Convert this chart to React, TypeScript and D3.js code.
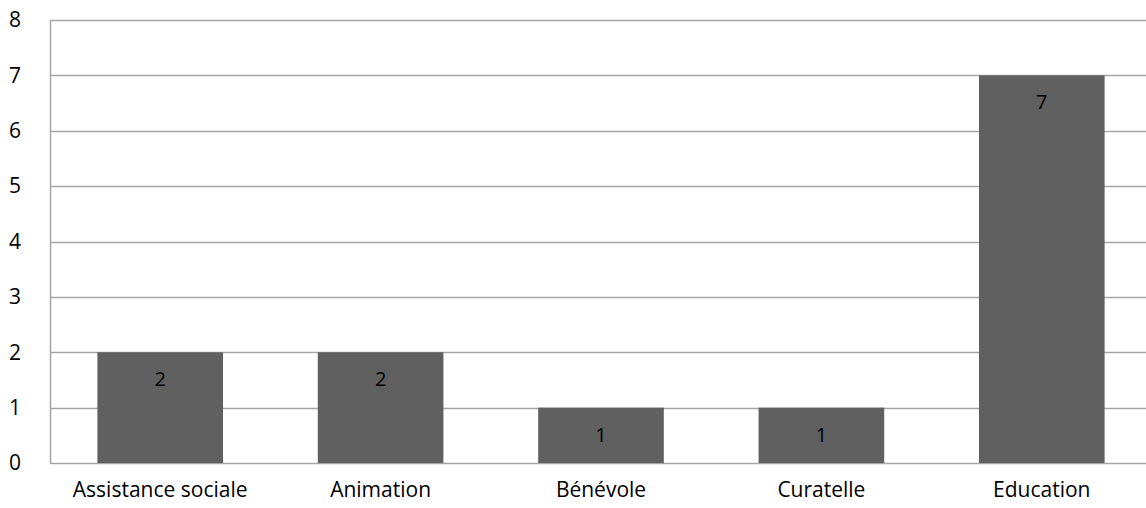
import * as d3 from 'd3';
import { useEffect, useRef } from 'react';

const categories = ['Assistance sociale', 'Animation', 'Bénévole', 'Curatelle', 'Education'];
const values = [2, 2, 1, 1, 7];
const yTicks = [0, 1, 2, 3, 4, 5, 6, 7, 8];

const App = () => {
  const svgRef = useRef<SVGSVGElement | null>(null);

  useEffect(() => {
    const width = 1146;
    const height = 508;
    // plot area runs a little past the right edge of the picture
    const margin = { top: 20, right: -6, bottom: 45, left: 50 };
    const font = '"Open Sans", Lato, sans-serif';

    const x = d3
      .scaleBand<string>()
      .domain(categories)
      .range([margin.left, width - margin.right])
      .paddingInner(0.43)
      .paddingOuter(0.215);

    const y = d3
      .scaleLinear()
      .domain([0, 8])
      .range([height - margin.bottom, margin.top]);

    const svg = d3.select(svgRef.current)
      .attr('width', width)
      .attr('height', height);

    svg.selectAll('*').remove();

    // gridlines
    svg.append('g')
      .selectAll('line')
      .data(yTicks)
      .join('line')
      .attr('x1', margin.left)
      .attr('x2', width - margin.right)
      .attr('y1', (d) => Math.round(y(d)) + 0.5)
      .attr('y2', (d) => Math.round(y(d)) + 0.5)
      .attr('stroke', '#a6a6a6')
      .attr('stroke-width', 1.5);

    // left axis line
    svg.append('line')
      .attr('x1', margin.left + 0.5)
      .attr('x2', margin.left + 0.5)
      .attr('y1', y(8))
      .attr('y2', y(0) + 1)
      .attr('stroke', '#a6a6a6')
      .attr('stroke-width', 1.5);

    // y tick labels
    svg.append('g')
      .selectAll('text')
      .data(yTicks)
      .join('text')
      .attr('x', 15)
      .attr('y', (d) => y(d))
      .attr('dy', '0.35em')
      .attr('text-anchor', 'middle')
      .attr('font-family', font)
      .attr('font-size', 21)
      .attr('fill', '#000')
      .text((d) => d);

    // bars
    svg.append('g')
      .selectAll('rect')
      .data(values)
      .join('rect')
      .attr('x', (_, i) => x(categories[i])!)
      .attr('y', (d) => y(d))
      .attr('width', x.bandwidth())
      .attr('height', (d) => y(0) - y(d))
      .attr('fill', '#606060');

    // value labels
    svg.append('g')
      .selectAll('text')
      .data(values)
      .join('text')
      .attr('x', (_, i) => x(categories[i])! + x.bandwidth() / 2)
      .attr('y', (d) => y(d) + 27)
      .attr('dy', '0.35em')
      .attr('text-anchor', 'middle')
      .attr('font-family', font)
      .attr('font-size', 20)
      .attr('fill', '#000')
      .text((d) => d);

    // category labels
    svg.append('g')
      .selectAll('text')
      .data(categories)
      .join('text')
      .attr('x', (d) => x(d)! + x.bandwidth() / 2)
      .attr('y', 490)
      .attr('dy', '0.35em')
      .attr('text-anchor', 'middle')
      .attr('font-family', font)
      .attr('font-size', 21)
      .attr('fill', '#000')
      .text((d) => d);
  }, []);

  return (
    <svg
      ref={svgRef}
      style={{ position: 'absolute', left: 0, top: 0, display: 'block', background: '#fff' }}
    ></svg>
  );
};

export default App;
